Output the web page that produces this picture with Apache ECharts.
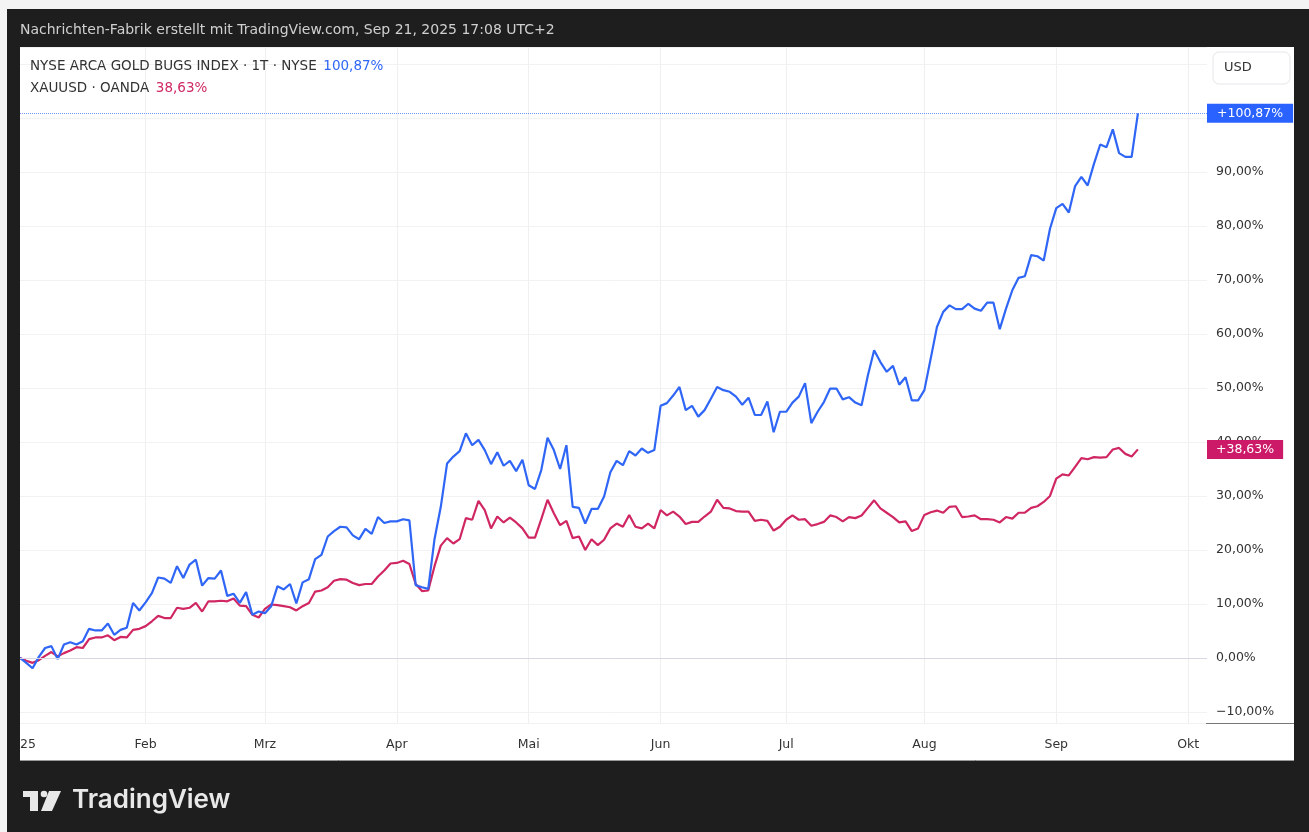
<!DOCTYPE html>
<html>
<head>
    <meta charset="utf-8">
    <script src="https://cdn.jsdelivr.net/npm/echarts@6/dist/echarts.min.js"></script>
</head>
<body style="margin:0">

    <div id="main" style="width:1309px;height:832px;"></div>

<script type="text/javascript">
// NYSE trading days from 2 Jan 2025, the axis runs a bit into October
var holidays = ['2025-01-09', '2025-01-20', '2025-02-17', '2025-04-18', '2025-05-26', '2025-06-19', '2025-07-04', '2025-09-01'];
var monthNames = ['Jan', 'Feb', 'Mrz', 'Apr', 'Mai', 'Jun', 'Jul', 'Aug', 'Sep', 'Okt', 'Nov', 'Dez'];

var dates = [];
for (var d = new Date(Date.UTC(2025, 0, 2)); dates.length < 190; d.setUTCDate(d.getUTCDate() + 1)) {
    var wd = d.getUTCDay();
    var s = d.toISOString().slice(0, 10);
    if (wd === 0 || wd === 6 || holidays.indexOf(s) >= 0) continue;
    dates.push(s);
}

// % change since start
var gdmVals = [
    0, -0.9, -1.9, 0.2, 1.85, 2.2, -0.2, 2.5, 2.9, 2.5,
    3.1, 5.4, 5.1, 5.1, 6.4, 4.3, 5.2, 5.6, 10.2, 8.8,
    10.3, 12.0, 14.9, 14.7, 13.9, 17.0, 14.8, 17.3, 18.2, 13.4,
    14.8, 14.7, 16.2, 11.5, 11.9, 10.2, 12.2, 8.0, 8.6, 8.3,
    9.6, 13.3, 12.7, 13.7, 10.1, 14.0, 14.6, 18.3, 19.1, 22.5,
    23.5, 24.3, 24.2, 22.7, 22.0, 23.9, 23.0, 26.1, 25.0, 25.3,
    25.3, 25.7, 25.5, 13.5, 13.1, 12.8, 22.0, 28.0, 36.0, 37.3,
    38.3, 41.6, 39.4, 40.4, 38.5, 35.9, 38.1, 35.6, 36.5, 34.6,
    36.7, 32.0, 31.3, 34.8, 40.8, 38.5, 35.0, 39.4, 28.0, 27.8,
    24.9, 27.6, 27.6, 29.9, 34.4, 36.5, 35.7, 38.3, 37.5, 38.8,
    38.0, 38.5, 46.7, 47.2, 48.6, 50.2, 45.9, 46.7, 44.7, 45.9,
    48.0, 50.2, 49.6, 49.3, 48.4, 46.9, 48.2, 45.0, 45.0, 47.5,
    41.8, 45.6, 45.6, 47.3, 48.4, 50.9, 43.5, 45.6, 47.4, 49.9,
    49.9, 47.9, 48.3, 47.3, 46.8, 52.3, 57.0, 54.8, 53.0, 54.1,
    50.6, 52.0, 47.7, 47.7, 49.6, 55.4, 61.3, 64.1, 65.3, 64.6,
    64.6, 65.6, 64.7, 64.3, 65.8, 65.8, 60.9, 64.7, 68.1, 70.4,
    70.7, 74.6, 74.4, 73.6, 79.5, 83.3, 84.1, 82.5, 87.4, 89.1,
    87.5, 91.5, 95.1, 94.6, 97.9, 93.5, 92.8, 92.8, 100.87
];
var xauVals = [
    0, -0.5, -0.9, -0.4, 0.4, 1.1, 0.3, 0.9, 1.4, 2.0,
    1.85, 3.5, 3.8, 3.8, 4.2, 3.3, 3.9, 3.8, 5.2, 5.4,
    5.9, 6.8, 7.8, 7.4, 7.4, 9.3, 9.1, 9.3, 10.2, 8.6,
    10.5, 10.5, 10.6, 10.5, 11.0, 9.7, 9.6, 8.0, 7.5, 9.1,
    9.9, 9.8, 9.6, 9.4, 8.8, 9.6, 10.2, 12.3, 12.5, 13.1,
    14.3, 14.6, 14.5, 13.9, 13.5, 13.7, 13.7, 15.1, 16.2, 17.5,
    17.6, 18.0, 17.4, 13.7, 12.4, 12.5, 17.0, 20.8, 22.2, 21.2,
    22.0, 25.9, 25.6, 29.1, 27.4, 24.0, 26.2, 25.1, 26.0, 25.1,
    24.0, 22.3, 22.3, 25.7, 29.3, 26.8, 24.6, 25.4, 22.2, 22.5,
    20.0, 22.0, 20.9, 21.9, 24.0, 24.9, 24.3, 26.5, 24.3, 24.0,
    24.9, 24.0, 27.4, 26.4, 27.1, 26.2, 24.8, 25.2, 25.2, 26.2,
    27.1, 29.3, 27.8, 27.7, 27.2, 27.1, 27.1, 25.4, 25.6, 25.4,
    23.6, 24.3, 25.6, 26.4, 25.6, 25.7, 24.5, 24.8, 25.2, 26.4,
    26.1, 25.3, 26.1, 25.9, 26.4, 27.8, 29.2, 27.7, 26.9, 26.1,
    25.1, 25.3, 23.5, 24.0, 26.5, 27.0, 27.3, 26.9, 28.0, 28.1,
    26.1, 26.2, 26.4, 25.7, 25.7, 25.6, 25.1, 26.1, 25.8, 26.9,
    26.9, 27.8, 28.1, 28.9, 30.0, 33.2, 34.0, 33.8, 35.4, 37.0,
    36.8, 37.2, 37.1, 37.2, 38.6, 38.9, 37.8, 37.3, 38.63
];

var blue = '#2f66f6';
var pink = '#d02763';
var font = 'DejaVu Sans';

function pct(v) {
    return (v < 0 ? '\u2212' : '') + Math.abs(v).toFixed(2).replace('.', ',') + '%';
}
function monthStart(i) {
    return i === 0 || dates[i].slice(5, 7) !== dates[i - 1].slice(5, 7);
}

var gdmLast = gdmVals[gdmVals.length - 1];
var xauLast = xauVals[xauVals.length - 1];

var myChart = echarts.init(document.getElementById('main'));

function frame(x, y, w, h, color) {
    return { type: 'rect', z: 100, silent: true, shape: { x: x, y: y, width: w, height: h }, style: { fill: color } };
}

myChart.setOption({
    animation: false,
    backgroundColor: '#ffffff',
    textStyle: { fontFamily: font },
    grid: { left: 20, right: 102, top: 47, bottom: 109 },
    xAxis: {
        type: 'category',
        data: dates,
        boundaryGap: false,
        axisLine: { show: false },
        axisTick: { show: false },
        axisLabel: {
            interval: function (i) { return monthStart(i); },
            formatter: function (v, i) { return i === 0 ? '2025' : monthNames[+v.slice(5, 7) - 1]; },
            color: '#333',
            fontSize: 12.5,
            margin: 15
        },
        splitLine: {
            show: true,
            interval: function (i) { return i > 0 && monthStart(i); },
            lineStyle: { color: '#f0f0f3', width: 1 }
        }
    },
    yAxis: {
        type: 'value',
        position: 'right',
        min: -12.04,
        max: 113.15,
        minInterval: 10,
        maxInterval: 10,
        axisLine: { show: false },
        axisTick: { show: false },
        axisLabel: {
            showMinLabel: false,
            showMaxLabel: false,
            formatter: function (v) { return v > 95 ? '' : pct(v); },
            color: '#333',
            fontSize: 12.5,
            margin: 9
        },
        splitLine: { lineStyle: { color: '#f2f2f5', width: 1 } }
    },
    series: [
        {
            name: 'XAUUSD',
            type: 'line',
            data: xauVals,
            showSymbol: false,
            lineStyle: { color: pink, width: 2.2 },
            itemStyle: { color: pink },
            markLine: {
                silent: true,
                symbol: 'none',
                data: [{
                    yAxis: xauLast,
                    lineStyle: { color: 'rgba(0,0,0,0)', width: 0 },
                    label: {
                        position: 'end',
                        distance: 0,
                        formatter: '+' + pct(xauLast),
                        backgroundColor: '#cc1a69',
                        color: '#fff',
                        fontSize: 12.5,
                        padding: [3, 9, 3, 9]
                    }
                }]
            }
        },
        {
            name: 'GDM',
            type: 'line',
            data: gdmVals,
            showSymbol: false,
            lineStyle: { color: blue, width: 2.2 },
            itemStyle: { color: blue },
            markLine: {
                silent: true,
                symbol: 'none',
                data: [
                    { yAxis: 0, lineStyle: { color: '#d8d8e2', type: 'solid', width: 1 }, label: { show: false } },
                    {
                        yAxis: gdmLast,
                        lineStyle: { color: 'rgba(41,98,255,0.65)', type: 'dotted', width: 1 },
                        label: {
                            position: 'end',
                            distance: 0,
                            formatter: '+' + pct(gdmLast),
                            backgroundColor: '#2962ff',
                            color: '#fff',
                            fontSize: 12.5,
                            padding: [3, 10, 3, 10]
                        }
                    }
                ]
            }
        }
    ],
    graphic: [
        // dark frame round the white chart panel
        frame(0, 0, 1309, 47, '#1e1e1e'),
        frame(0, 0, 20, 832, '#1e1e1e'),
        frame(1294, 0, 15, 832, '#1e1e1e'),
        frame(0, 760, 1309, 72, '#1e1e1e'),
        frame(0, 0, 7, 832, '#f4f4f4'),
        frame(0, 0, 1309, 9, '#f4f4f4'),
        { type: 'line', z: 101, shape: { x1: 20, y1: 760.5, x2: 1294, y2: 760.5 }, style: { stroke: '#9a9a9a', lineWidth: 1 } },
        { type: 'line', z: 101, shape: { x1: 1206, y1: 723.5, x2: 1294, y2: 723.5 }, style: { stroke: '#777', lineWidth: 1 } },
        {
            type: 'text', z: 101, left: 20, top: 23,
            style: { text: 'Nachrichten-Fabrik erstellt mit TradingView.com, Sep 21, 2025 17:08 UTC+2', fill: '#d0d0d0', font: '14px ' + font }
        },
        {
            type: 'text', z: 101, left: 30, top: 59,
            style: {
                text: '{a|NYSE ARCA GOLD BUGS INDEX · 1T · NYSE}  {b|' + pct(gdmLast) + '}',
                rich: {
                    a: { fill: '#333', fontSize: 13.5, fontFamily: font },
                    b: { fill: blue, fontSize: 13.5, fontFamily: font }
                }
            }
        },
        {
            type: 'text', z: 101, left: 30, top: 81,
            style: {
                text: '{a|XAUUSD · OANDA}  {b|' + pct(xauLast) + '}',
                rich: {
                    a: { fill: '#333', fontSize: 13.5, fontFamily: font },
                    b: { fill: pink, fontSize: 13.5, fontFamily: font }
                }
            }
        },
        // currency box
        { type: 'rect', z: 101, shape: { x: 1213, y: 52, width: 77, height: 32, r: 6 }, style: { fill: '#fff', stroke: '#e6e6ea', lineWidth: 1 } },
        { type: 'text', z: 102, left: 1224, top: 61, style: { text: 'USD', fill: '#333', font: '13px ' + font } },
        // TradingView logo
        { type: 'rect', z: 101, shape: { x: 23, y: 791, width: 15, height: 6 }, style: { fill: '#e8e8e8' } },
        { type: 'rect', z: 101, shape: { x: 30, y: 791, width: 8, height: 20 }, style: { fill: '#e8e8e8' } },
        { type: 'circle', z: 101, shape: { cx: 44, cy: 794, r: 3.3 }, style: { fill: '#e8e8e8' } },
        { type: 'polygon', z: 101, shape: { points: [[49, 791], [61, 791], [52, 811], [41, 811]] }, style: { fill: '#e8e8e8' } },
        { type: 'text', z: 101, left: 72, top: 787, style: { text: 'TradingView', fill: '#e8e8e8', font: '600 26px Inter' } }
    ]
});
</script>

</body>
</html>
